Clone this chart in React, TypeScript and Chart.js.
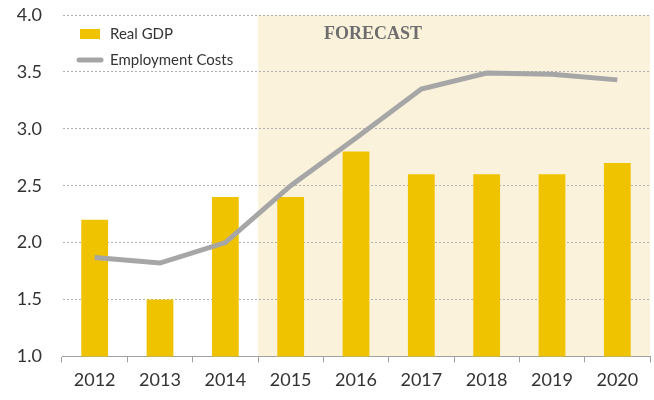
import React, { useEffect, useRef } from "react";
import { Chart, registerables } from "chart.js";

Chart.register(...registerables);

const years = ["2012", "2013", "2014", "2015", "2016", "2017", "2018", "2019", "2020"];
const realGdp = [2.2, 1.5, 2.4, 2.4, 2.8, 2.6, 2.6, 2.6, 2.7];
const employmentCosts = [1.87, 1.82, 2.0, 2.5, 2.92, 3.35, 3.49, 3.48, 3.43];
const forecastStartIndex = 3;
const forecastLabel = "FORECAST";
const yMin = 1.0;
const yMax = 4.0;
const yStep = 0.5;

const BAR_COLOR = "#EFC300";
const LINE_COLOR = "#A6A6A6";
const SHADE_COLOR = "#FAF2DB";
const FONT = "Lato, 'Open Sans', sans-serif";

const forecastPlugin = {
  id: "forecastShade",
  beforeDraw(chart: any) {
    const { ctx, chartArea, scales } = chart;
    const xs = scales.x;
    const x0 = (xs.getPixelForValue(forecastStartIndex - 1) + xs.getPixelForValue(forecastStartIndex)) / 2;
    ctx.save();
    ctx.fillStyle = SHADE_COLOR;
    ctx.fillRect(x0, chartArea.top, chartArea.right - x0, chartArea.bottom - chartArea.top);
    ctx.restore();
  },
  afterDatasetsDraw(chart: any) {
    const { ctx, chartArea, scales } = chart;
    const xs = scales.x;
    const x0 = (xs.getPixelForValue(forecastStartIndex - 1) + xs.getPixelForValue(forecastStartIndex)) / 2;
    ctx.save();
    ctx.fillStyle = "#6E6E6E";
    ctx.font = "bold 18px 'Liberation Serif', 'DejaVu Serif', serif";
    ctx.textBaseline = "middle";
    ctx.textAlign = "left";
    ctx.fillText(forecastLabel, x0 + 66, chartArea.top + 19);

    const lx = chartArea.left + 18;
    ctx.fillStyle = BAR_COLOR;
    ctx.fillRect(lx, chartArea.top + 14, 20, 10);
    ctx.strokeStyle = LINE_COLOR;
    ctx.lineWidth = 5;
    ctx.lineCap = "round";
    ctx.beginPath();
    ctx.moveTo(lx - 1, chartArea.top + 45);
    ctx.lineTo(lx + 21, chartArea.top + 45);
    ctx.stroke();
    ctx.fillStyle = "#333333";
    ctx.font = `15px ${FONT}`;
    ctx.fillText(chart.data.datasets[0].label, lx + 30, chartArea.top + 19);
    ctx.fillText(chart.data.datasets[1].label, lx + 30, chartArea.top + 45);
    ctx.restore();
  },
};

export default function App() {
  const ref = useRef<HTMLCanvasElement>(null);
  useEffect(() => {
    document.body.style.margin = "0";
    const chart = new Chart(ref.current!, {
      type: "bar",
      data: {
        labels: years,
        datasets: [
          {
            type: "bar",
            label: "Real GDP",
            data: realGdp,
            backgroundColor: BAR_COLOR,
            barPercentage: 0.41,
            categoryPercentage: 1,
            order: 1,
          },
          {
            type: "line",
            label: "Employment Costs",
            data: employmentCosts,
            borderColor: LINE_COLOR,
            borderWidth: 5,
            pointRadius: 0,
            tension: 0,
            order: 0,
          } as any,
        ],
      },
      options: {
        responsive: false,
        animation: false,
        layout: { padding: { top: 15, right: 4, left: 0, bottom: 2 } },
        plugins: { legend: { display: false }, tooltip: { enabled: false } },
        scales: {
          x: {
            offset: true,
            grid: {
              offset: true,
              drawOnChartArea: false,
              drawTicks: true,
              tickLength: 6,
              color: "#A0A0A0",
            },
            border: { color: "#A0A0A0", width: 1 },
            ticks: { color: "#333333", font: { family: FONT, size: 18 }, padding: 7 },
          },
          y: {
            min: yMin,
            max: yMax,
            afterFit(scale: any) {
              scale.width = 62;
            },
            ticks: {
              stepSize: yStep,
              color: "#333333",
              font: { family: FONT, size: 18 },
              padding: 0,
              callback: (v: any) => Number(v).toFixed(1),
            },
            grid: {
              color: "#B0B0B0",
              drawTicks: true,
              tickLength: 20,
              tickColor: "rgba(0,0,0,0)",
            },
            border: { display: true, color: "rgba(0,0,0,0)", dash: [2, 2] },
          },
        },
      },
      plugins: [forecastPlugin],
    });
    return () => chart.destroy();
  }, []);
  return (
    <div style={{ position: "absolute", left: 0, top: 0, width: 654, height: 400 }}>
      <canvas ref={ref} width={654} height={400} />
    </div>
  );
}
